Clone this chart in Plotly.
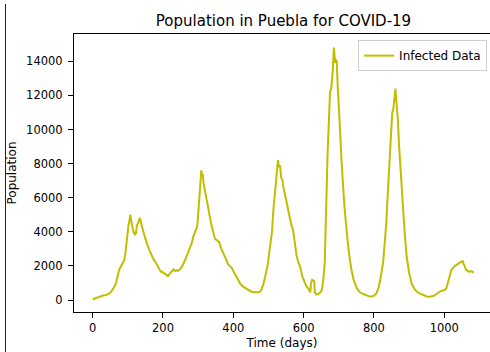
import plotly.graph_objects as go

days = [0, 10, 20, 30, 40, 50, 55, 60, 65, 70, 75, 80, 85, 90, 93, 96, 99, 102, 105, 107,
        110, 113, 116, 120, 123, 126, 129, 132, 135, 138, 141, 144, 147, 150, 154, 158, 162,
        166, 170, 174, 178, 182, 186, 190, 194, 198, 202, 206, 210, 214, 218, 222, 226, 230,
        234, 238, 242, 246, 250, 254, 258, 262, 266, 270, 274, 278, 282, 286, 290, 294, 297,
        299, 301, 303, 305, 307, 309, 311, 313, 315, 318, 321, 324, 327, 330, 334, 339, 342,
        345, 349, 353, 356, 360, 364, 367, 371, 375, 380, 385, 391, 395, 400, 405, 410, 415,
        420, 428, 435, 440, 450, 460, 466, 472, 478, 485, 490, 494, 498, 502, 506, 510, 514,
        518, 521, 524, 527, 530, 533, 536, 540, 542, 545, 548, 552, 556, 560, 565, 570, 575,
        580, 585, 590, 596, 602, 608, 613, 616, 619, 621, 624, 627, 630, 632, 636, 640, 644,
        648, 652, 656, 660, 663, 665, 668, 671, 675, 679, 683, 686, 688, 690, 692, 694, 697,
        700, 704, 708, 712, 716, 722, 728, 736, 742, 751, 760, 770, 780, 788, 795, 800, 807,
        813, 818, 822, 826, 830, 835, 840, 844, 848, 852, 855, 858, 861, 863, 865, 868, 871,
        875, 879, 883, 888, 893, 900, 907, 915, 922, 930, 940, 950, 959, 970, 980, 987, 995,
        1002, 1006, 1010, 1014, 1020, 1025, 1030, 1035, 1040, 1045, 1050, 1052, 1055, 1058,
        1061, 1063, 1067, 1070, 1075, 1080, 1084]

infected = [40, 120, 200, 260, 300, 420, 550, 700, 900, 1300, 1750, 1950, 2150, 2350, 2700,
            3400, 4100, 4400, 4700, 5000, 4600, 4300, 4000, 3850, 3900, 4400, 4500, 4700, 4800,
            4500, 4200, 4100, 3800, 3600, 3300, 3100, 2900, 2700, 2500, 2350, 2250, 2100, 1900,
            1750, 1650, 1650, 1600, 1550, 1450, 1400, 1500, 1600, 1750, 1800, 1700, 1750, 1700,
            1750, 1850, 1950, 2100, 2300, 2500, 2700, 2950, 3150, 3350, 3700, 3900, 4100, 4300,
            4700, 5400, 6000, 6800, 7000, 7600, 7300, 7400, 6900, 6500, 6200, 5900, 5600, 5200,
            4800, 4310, 4000, 3800, 3550, 3530, 3450, 3400, 3100, 2940, 2800, 2600, 2350, 2100,
            1960, 1900, 1700, 1500, 1300, 1100, 950, 780, 680, 600, 500, 450, 430, 450, 520, 880,
            1300, 1700, 2100, 2750, 3500, 4000, 5290, 6300, 7100, 7400, 8200, 7800, 7900, 7200,
            7000, 6660, 6300, 6100, 5700, 5290, 4800, 4400, 4120, 3200, 2600, 2200, 1960, 1400,
            1100, 800, 690, 520, 450, 1000, 1180, 1150, 1100, 450, 320, 330, 380, 450, 600, 1200,
            2180, 4000, 6080, 8500, 10500, 12160, 12500, 13500, 14800, 14500, 13900, 14100, 14000,
            12500, 11000, 9800, 8060, 6500, 5500, 4120, 2900, 1760, 1200, 690, 450, 350, 250, 200,
            220, 250, 390, 700, 1200, 1700, 2180, 3200, 4500, 6500, 8000, 10000, 11000, 11200,
            11700, 12400, 11800, 11300, 10600, 9200, 7650, 6200, 5290, 3800, 2550, 1600, 980, 650,
            480, 390, 280, 210, 190, 250, 380, 490, 550, 600, 690, 950, 1300, 1760, 1900, 2000,
            2060, 2150, 2200, 2250, 2310, 2100, 2000, 1800, 1760, 1700, 1650, 1700, 1650, 1660]

x_ticks = [0, 200, 400, 600, 800, 1000]
y_ticks = [0, 2000, 4000, 6000, 8000, 10000, 12000, 14000]
y_tick_labels = ["0", "2000", "4000", "6000", "8000", "10000", "12000", "14000"]

font_family = "DejaVu Sans"

fig = go.Figure()
fig.add_trace(go.Scatter(x=days, y=infected, mode="lines", name="Infected Data",
                         line=dict(color="#bfbf00", width=2)))

fig.update_layout(
    width=490, height=352,
    margin=dict(l=74, r=0, t=34, b=40),
    paper_bgcolor="white", plot_bgcolor="white",
    font=dict(family=font_family, size=11.5, color="black"),
    title=dict(text="Population in Puebla for COVID-19", x=(283.5) / 490, xanchor="center",
               y=1 - 21 / 352, yanchor="middle", font=dict(size=15, color="black")),
    showlegend=True,
    legend=dict(x=0.993, y=0.978, xanchor="right", yanchor="top",
                bordercolor="#d0d0d0", borderwidth=1, bgcolor="white",
                font=dict(size=12), itemwidth=30),
    shapes=[dict(type="line", xref="paper", yref="paper",
                 x0=(5.5 - 74) / 416, x1=(5.5 - 74) / 416,
                 y0=(312 - 4) / 278, y1=-40 / 278,
                 line=dict(color="#222222", width=1))],
)
fig.update_xaxes(range=[-53, 1130], tickvals=x_ticks, ticks="outside", ticklen=5,
                 tickcolor="black", showline=True, linecolor="black", linewidth=1,
                 mirror=True, showgrid=False, zeroline=False,
                 title=dict(text="Time (days)", standoff=4, font=dict(size=12)))
fig.update_yaxes(range=[-704, 15600], tickvals=y_ticks, ticktext=y_tick_labels,
                 ticks="outside", ticklen=5, ticklabelstandoff=3,
                 tickcolor="black", showline=True, linecolor="black", linewidth=1,
                 mirror=False, showgrid=False, zeroline=False,
                 title=dict(text="Population", standoff=6, font=dict(size=12)))

fig.write_html("out.html")
